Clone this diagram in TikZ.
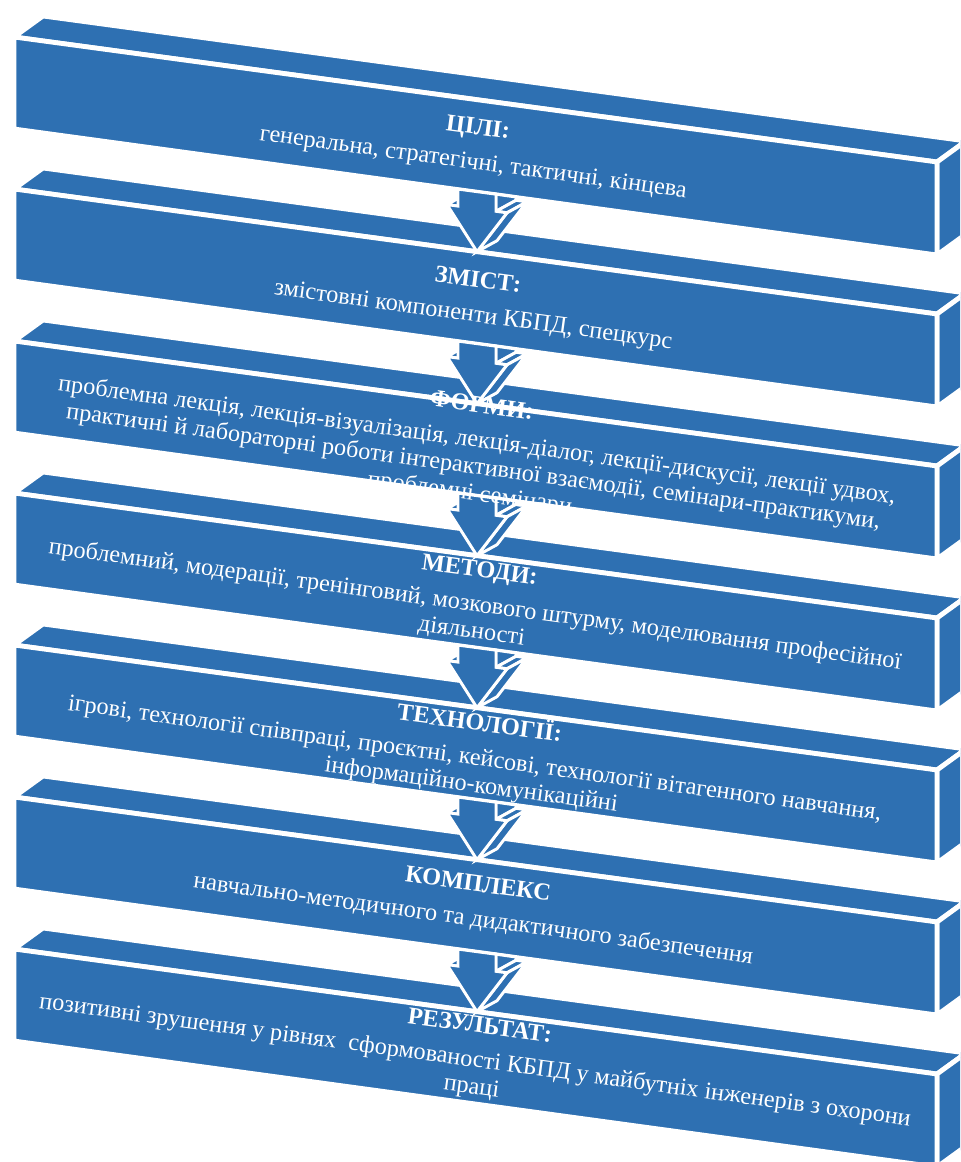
\documentclass[tikz,border=0pt]{standalone}
\usepackage{fontspec}
\setmainfont{Liberation Serif}
\usepackage{xcolor}
\definecolor{SlabBlue}{RGB}{46,112,178}

% one tilted slab, #1 = y of the upper left corner of its front face
\newcommand{\drawslab}[1]{%
  \filldraw[face] (14,#1) -- (43,#1-21) -- (966,#1+104) -- (937,#1+125) -- cycle; %Top face
  \filldraw[face] (937,#1+125) -- (966,#1+104) -- (966,#1+197) -- (937,#1+218) -- cycle; %Side face
  \filldraw[face] (14,#1) -- (937,#1+125) -- (937,#1+218) -- (14,#1+92) -- cycle; %Front face
}

% one down arrow, #1 = y of its tip
\newcommand{\drawpointer}[1]{%
  \begin{scope}[shift={(477,#1)}]
    \filldraw[arrowface] (19,-57.5) -- (19,-40.4) -- (39,-51.4) -- (39,-54.7) -- cycle; %Shaft side
    \filldraw[arrowface] (-30,-47.1) -- (-19,-45.6) -- (1,-56.6) -- (-10,-58.1) -- cycle; %Left shoulder
    \filldraw[arrowface] (19,-40.4) -- (30,-38.9) -- (50,-49.9) -- (39,-51.4) -- cycle; %Right shoulder
    \filldraw[arrowface] (30,-38.9) -- (0,0) -- (20,-11) -- (50,-49.9) -- cycle; %Head side
    \filldraw[arrowface] (-19,-62.6) -- (-19,-45.6) -- (-30,-47.1) -- (0,0)
      -- (30,-38.9) -- (19,-40.4) -- (19,-57.5) -- cycle; %Front
  \end{scope}
}

\begin{document}
\begin{tikzpicture}[x=0.75pt, y=-0.75pt,
    face/.style={fill=SlabBlue, draw=white, line width=3.6pt, line join=miter},
    arrowface/.style={fill=SlabBlue, draw=white, line width=2.2pt, line join=miter},
    slabtext/.style={text=white, align=center, rotate=-7.71, inner sep=0pt,
      font=\fontsize{18.2}{20}\selectfont}]

    \useasboundingbox (0,0) rectangle (960,1162);
    \clip (0,0) rectangle (960,1162);

    %Slabs
    \foreach \t in {37,189,341,493,645,797,949} {\drawslab{\t}}

    %Arrows
    \foreach \y in {251.7,403.7,555.7,707.7,859.7,1011.7} {\drawpointer{\y}}

    %Texts
    \node[slabtext] (goals) at (475.5,146.5) {\textbf{ЦІЛІ:}\\[6pt]
      генеральна, стратегічні, тактичні, кінцева};
    \node[slabtext] (content) at (475.5,299) {\textbf{ЗМІСТ:}\\[6pt]
      змістовні компоненти КБПД, спецкурс};
    \node[slabtext] (forms) at (475.5,451) {\textbf{ФОРМИ:}\\[6pt]
      проблемна лекція, лекція-візуалізація, лекція-діалог, лекції-дискусії, лекції удвох,\\
      практичні й лабораторні роботи інтерактивної взаємодії, семінари-практикуми,\\
      проблемні семінари};
    \node[slabtext] (methods) at (475.5,601.75) {\textbf{МЕТОДИ:}\\[6pt]
      проблемний, модерації, тренінговий, мозкового штурму, моделювання професійної\\
      діяльності};
    \node[slabtext] (techs) at (475.5,753.75) {\textbf{ТЕХНОЛОГІЇ:}\\[6pt]
      ігрові, технології співпраці, проєктні, кейсові, технології вітагенного навчання,\\
      інформаційно-комунікаційні};
    \node[slabtext] (complex) at (475.5,903) {\textbf{КОМПЛЕКС}\\[6pt]
      навчально-методичного та дидактичного забезпечення};
    \node[slabtext] (result) at (475.5,1057.75) {\textbf{РЕЗУЛЬТАТ:}\\[6pt]
      позитивні зрушення у рівнях~ сформованості КБПД у майбутніх інженерів з охорони\\
      праці};

\end{tikzpicture}
\end{document}
